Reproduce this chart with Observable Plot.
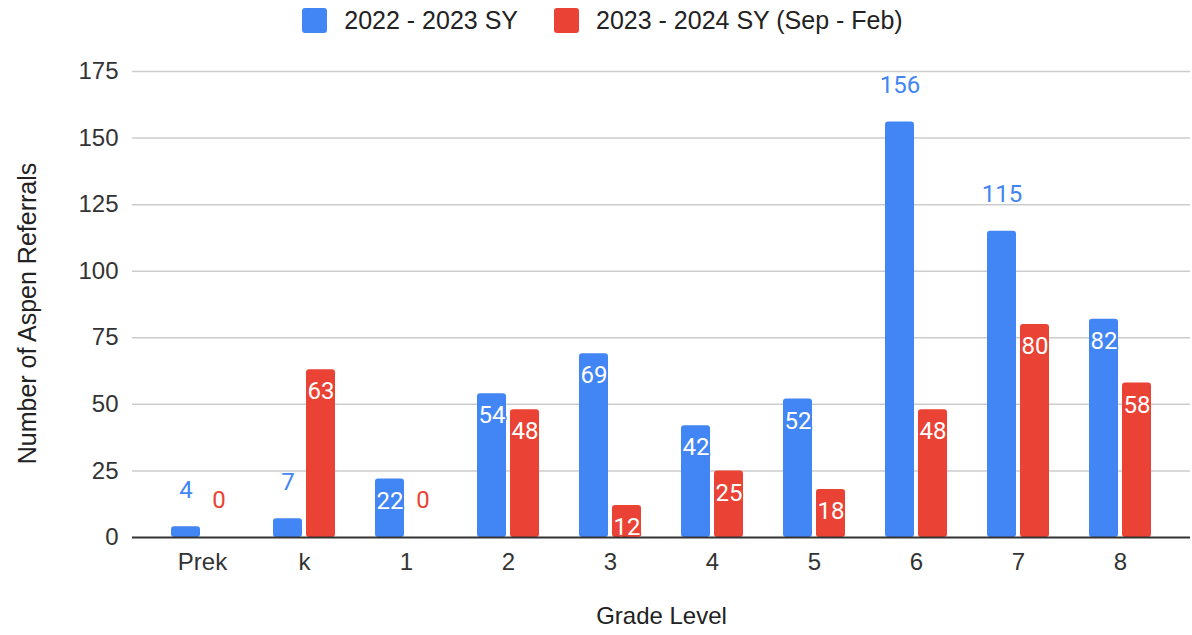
<!DOCTYPE html>
<html>
<head>
<meta charset="utf-8">
<script src="https://cdn.jsdelivr.net/npm/d3@7"></script>
<script src="https://cdn.jsdelivr.net/npm/@observablehq/plot@0.6"></script>
<style>
  html, body { margin: 0; padding: 0; background: #fff; }
  #legend {
    height: 40px; display: flex; align-items: center; justify-content: center;
    padding-left: 13px; box-sizing: border-box;
    font-family: Arial, "Liberation Sans", sans-serif; font-size: 25px; color: #222;
  }
  .item { display: flex; align-items: center; }
  .sw { width: 25px; height: 25px; border-radius: 3px; margin-right: 17px; }
  .item + .item { margin-left: 36px; }
</style>
</head>
<body>
<div id="legend"></div>
<div id="chart"></div>
<script>
const grades = ["Prek", "k", "1", "2", "3", "4", "5", "6", "7", "8"];
const sy2223 = [4, 7, 22, 54, 69, 42, 52, 156, 115, 82];
const sy2324 = [0, 63, 0, 48, 12, 25, 18, 48, 80, 58];
const seriesNames = ["2022 - 2023 SY", "2023 - 2024 SY (Sep - Feb)"];
const seriesColors = ["#4285F4", "#EA4335"];
const yTicks = [0, 25, 50, 75, 100, 125, 150, 175];

const legend = document.getElementById("legend");
seriesNames.forEach((name, i) => {
  const it = document.createElement("div");
  it.className = "item";
  const sw = document.createElement("div");
  sw.className = "sw";
  sw.style.background = seriesColors[i];
  const tx = document.createElement("span");
  tx.textContent = name;
  it.appendChild(sw); it.appendChild(tx);
  legend.appendChild(it);
});

const rowsA = grades.map((g, i) => ({grade: g, value: sy2223[i]}));
const rowsB = grades.map((g, i) => ({grade: g, value: sy2324[i]}));
const inside = d => d.value >= 10 && d.value <= 100;
const outside = d => !inside(d);

const labelFont = "Roboto, 'Noto Sans', sans-serif";

const chart = Plot.plot({
  width: 1192,
  height: 595,
  marginTop: 31,
  marginBottom: 98,
  marginLeft: 132,
  marginRight: 2,
  style: {fontFamily: "Arial, 'Liberation Sans', sans-serif", fontSize: "24px", color: "#333", background: "#fff"},
  x: {domain: grades, paddingInner: 0.39, paddingOuter: 0.375, tickSize: 0, tickPadding: 15, label: null},
  y: {domain: [0, 175], ticks: yTicks, tickSize: 0, tickPadding: 14, label: null},
  marks: [
    Plot.ruleY(yTicks.slice(1), {stroke: "#ccc", strokeWidth: 1.5}),
    Plot.barY(rowsA, {x: "grade", y: "value", fill: seriesColors[0], insetRight: 33, rx: 3}),
    Plot.barY(rowsB, {x: "grade", y: "value", fill: seriesColors[1], insetLeft: 33, rx: 3}),
    Plot.ruleY([0], {stroke: "#333", strokeWidth: 2}),
    Plot.text(rowsA.filter(inside), {x: "grade", y: "value", text: d => String(d.value), dx: -16.5, dy: 22,
      fill: "white", stroke: seriesColors[0], strokeWidth: 3, fontFamily: labelFont, fontSize: 24}),
    Plot.text(rowsB.filter(inside), {x: "grade", y: "value", text: d => String(d.value), dx: 16.5, dy: 22,
      fill: "white", stroke: seriesColors[1], strokeWidth: 3, fontFamily: labelFont, fontSize: 24}),
    Plot.text(rowsA.filter(outside), {x: "grade", y: "value", text: d => String(d.value), dx: -16.5, dy: -37,
      fill: seriesColors[0], fontFamily: labelFont, fontSize: 24}),
    Plot.text(rowsB.filter(outside), {x: "grade", y: "value", text: d => String(d.value), dx: 16.5, dy: -37,
      fill: seriesColors[1], fontFamily: labelFont, fontSize: 24}),
    Plot.text(["Grade Level"], {frameAnchor: "bottom", dy: 86, textAnchor: "middle", fill: "#222", fontSize: 24}),
    Plot.text(["Number of Aspen Referrals"], {frameAnchor: "left", rotate: -90, textAnchor: "middle", dx: -105, dy: 9, fill: "#222", fontSize: 25})
  ]
});
document.getElementById("chart").appendChild(chart);
</script>
</body>
</html>
